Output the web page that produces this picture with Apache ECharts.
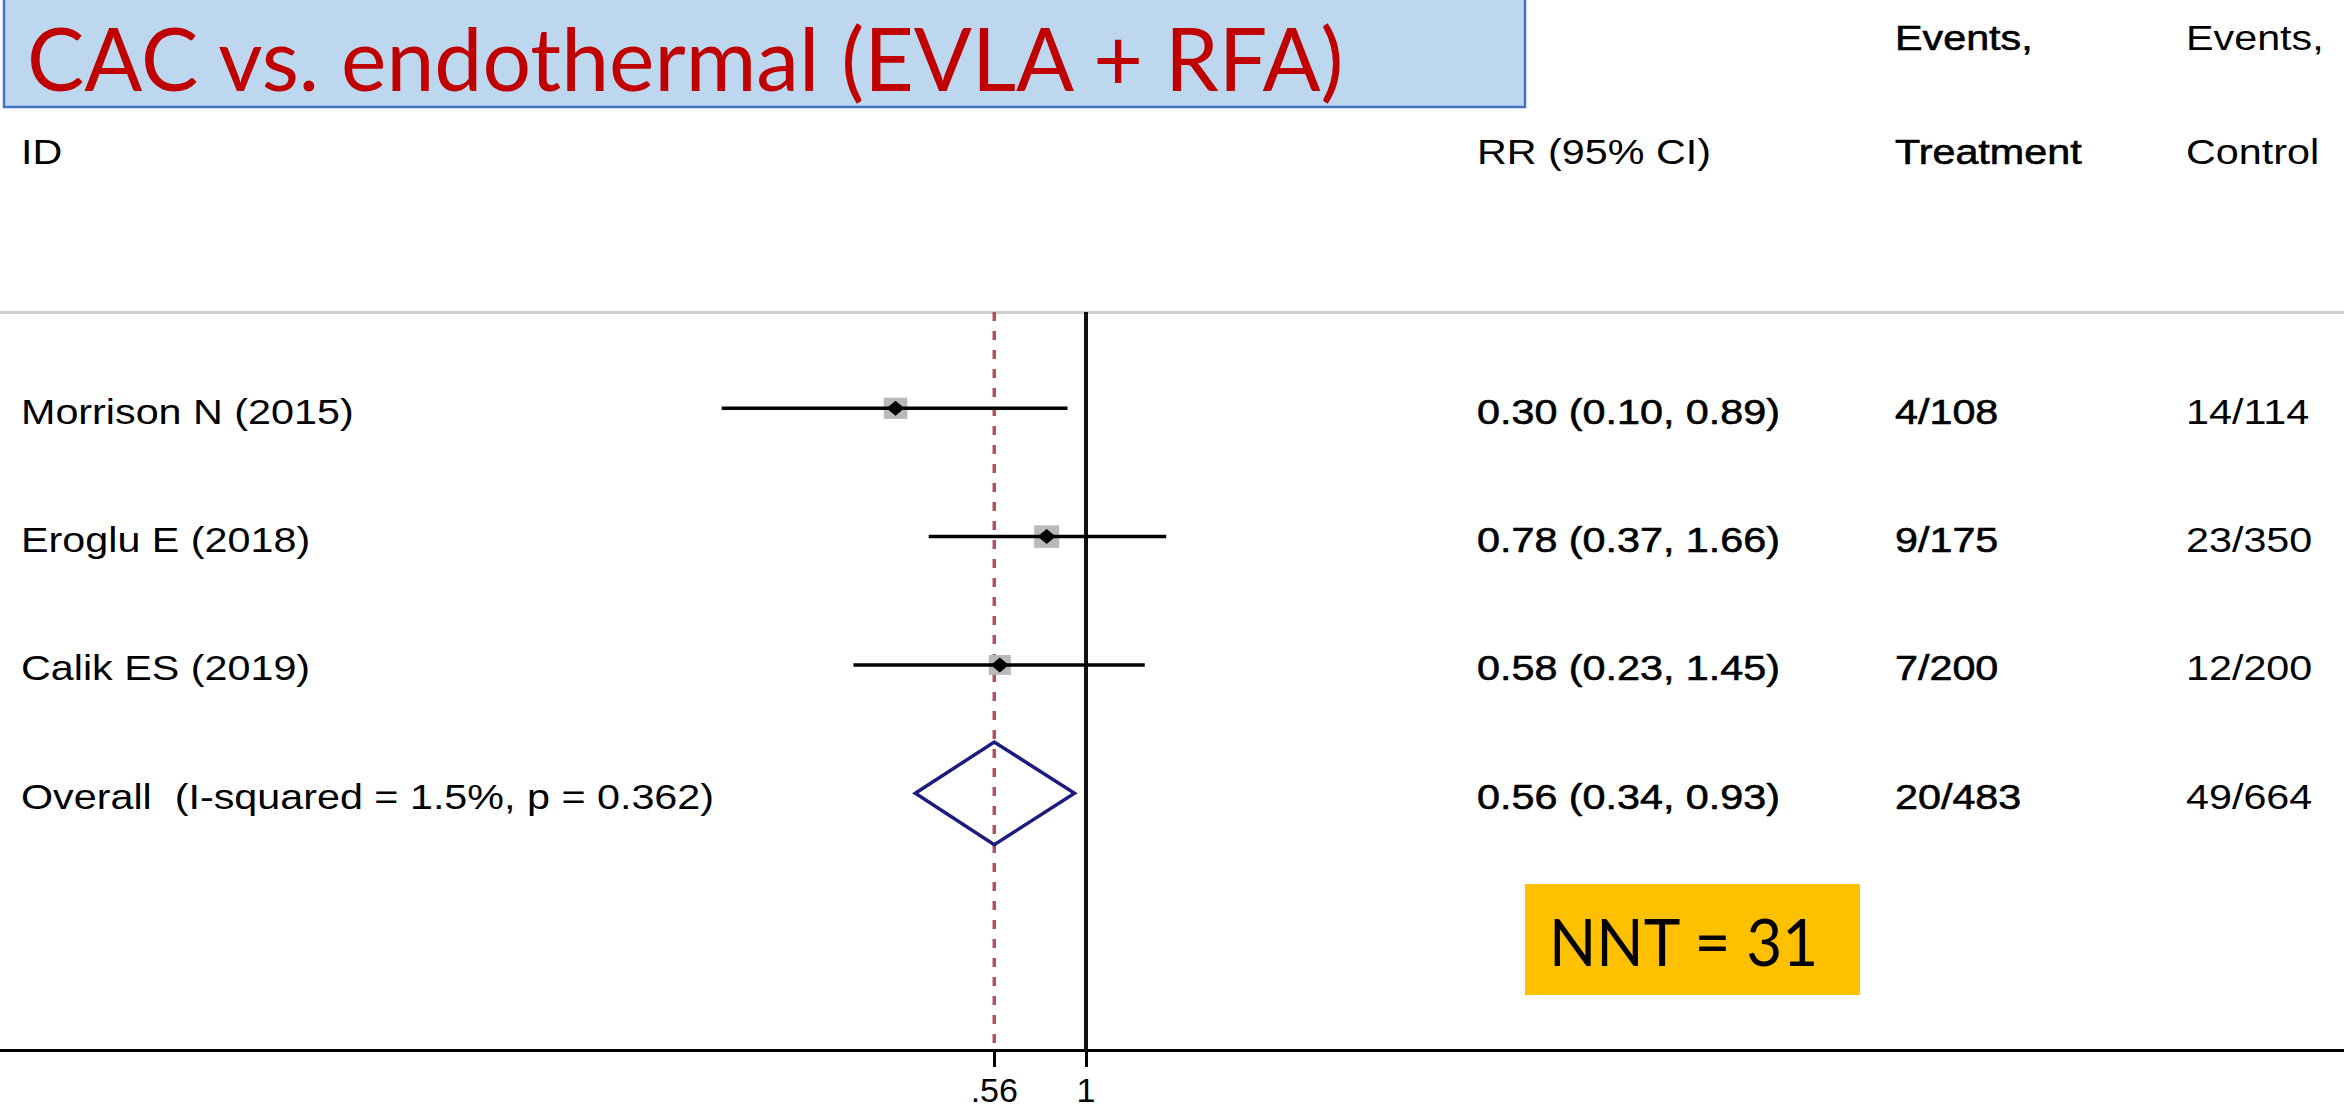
<!DOCTYPE html>
<html><head><meta charset="utf-8">
<script src="https://cdn.jsdelivr.net/npm/echarts@6/dist/echarts.min.js"></script>
<style>html,body{margin:0;padding:0;background:#fff}#c{width:2344px;height:1110px}</style>
</head><body><div id="c"></div>
<script>
// ---------------- data ----------------
const studies = ['Morrison N (2015)', 'Eroglu E (2018)', 'Calik ES (2019)'];
const rr = [0.30, 0.78, 0.58];
const rrLower = [0.10, 0.37, 0.23];
const rrUpper = [0.89, 1.66, 1.45];
const weights = [33.3, 37.4, 29.3];
const treatEvents = [4, 9, 7];
const treatTotal = [108, 175, 200];
const ctrlEvents = [14, 23, 12];
const ctrlTotal = [114, 350, 200];
const overallLabel = 'Overall  (I-squared = 1.5%, p = 0.362)';
const overallRR = 0.56, overallLower = 0.34, overallUpper = 0.93;
const xTicks = [0.56, 1];
const titleText = 'CAC vs. endothermal (EVLA + RFA)';
const nntText = 'NNT = 31';
const headerTop = ['Events,', 'Events,'];
const headerMain = ['ID', 'RR (95% CI)', 'Treatment', 'Control'];

// ---------------- layout ----------------
const W = 2344, H = 1110;
const gridTop = 312, axisY = 1050;
const xAt1 = 1086, pxPerDecade = 364.3;
const xMin = Math.pow(10, -xAt1 / pxPerDecade);
const xMax = Math.pow(10, (W - xAt1) / pxPerDecade);
const yMin = 0.25, yMax = 6;
const colX = [21, 1477, 1895, 2186];
const txtFont = '35px "Liberation Sans", Arial, sans-serif';
const txtScaleX = 1.18;
const textDy = 3;
const boxScale = 25 / Math.sqrt(37.4);
const diamondHalf = 0.4;

function measure(text, font) {
  const ctx = document.createElement('canvas').getContext('2d');
  ctx.font = font; return ctx.measureText(text).width;
}
function f2(v) { return v.toFixed(2); }
function fmtCI(e, l, u) { return f2(e) + ' (' + f2(l) + ', ' + f2(u) + ')'; }
function sum(a) { return a.reduce((s, v) => s + v, 0); }
function fmtTick(v) { return String(Number(Number(v).toPrecision(2))).replace(/^0\./, '.'); }

const tableRows = studies.map((s, i) => ({
  label: s, rr: fmtCI(rr[i], rrLower[i], rrUpper[i]),
  t: treatEvents[i] + '/' + treatTotal[i], c: ctrlEvents[i] + '/' + ctrlTotal[i]
}));
tableRows.push({
  label: overallLabel, rr: fmtCI(overallRR, overallLower, overallUpper),
  t: sum(treatEvents) + '/' + sum(treatTotal), c: sum(ctrlEvents) + '/' + sum(ctrlTotal)
});

function txt(text, x, y, bold) {
  return {
    type: 'text', x: x, y: y, scaleX: txtScaleX,
    style: { text: text, font: txtFont, fill: '#000', align: 'left', verticalAlign: 'middle',
      stroke: bold ? '#000' : null, lineWidth: bold ? 0.6 : 0 }
  };
}

function renderStudy(params, api) {
  const row = api.value(1);
  const c = api.coord([api.value(0), row]);
  const l = api.coord([api.value(2), row]);
  const r = api.coord([api.value(3), row]);
  const s = boxScale * Math.sqrt(api.value(4));
  return { type: 'group', children: [
    { type: 'rect', shape: { x: c[0] - s / 2, y: c[1] - s * 0.45, width: s, height: s * 0.9 }, style: { fill: '#b9b9b9' } },
    { type: 'line', shape: { x1: l[0], y1: l[1], x2: r[0], y2: r[1] }, style: { stroke: '#000', lineWidth: 3.5 } },
    { type: 'polygon', shape: { points: [[c[0] - 9, c[1]], [c[0], c[1] - 7.5], [c[0] + 9, c[1]], [c[0], c[1] + 7.5]] }, style: { fill: '#000' } }
  ]};
}

function renderOverall(params, api) {
  const row = api.value(1);
  const c = api.coord([api.value(0), row]);
  const l = api.coord([api.value(2), row]);
  const r = api.coord([api.value(3), row]);
  const top = api.coord([api.value(0), row - diamondHalf])[1];
  const bot = api.coord([api.value(0), row + diamondHalf])[1];
  return { type: 'polygon',
    shape: { points: [[l[0], c[1]], [c[0], top], [r[0], c[1]], [c[0], bot]] },
    style: { fill: 'none', stroke: '#1b1b80', lineWidth: 3.5 } };
}

function renderTable(params, api) {
  const y = api.coord([1, api.value(1)])[1] + textDy;
  const r = tableRows[params.dataIndex];
  return { type: 'group', children: [
    txt(r.label, colX[0], y, false),
    txt(r.rr, colX[1], y, true),
    txt(r.t, colX[2], y, true),
    txt(r.c, colX[3], y, false)
  ]};
}

const titleFont = '88px Lato, "Open Sans", sans-serif';
const titleScale = 1321 / measure(titleText, titleFont);
const nntFont = '66px Lato, "Open Sans", sans-serif';
const nntScale = 271 / measure(nntText, nntFont);

const chart = echarts.init(document.getElementById('c'), null, { renderer: 'svg', width: W, height: H });
chart.setOption({
  animation: false,
  backgroundColor: '#fff',
  grid: { left: 0, right: 0, top: gridTop, bottom: H - axisY, containLabel: false },
  xAxis: [{
    type: 'log', logBase: 10, min: xMin, max: xMax,
    axisLine: { show: true, onZero: false, lineStyle: { color: '#000', width: 3 } },
    axisTick: { show: true, customValues: xTicks, length: 17, lineStyle: { color: '#000', width: 3 } },
    axisLabel: { show: true, customValues: xTicks, formatter: fmtTick, fontSize: 34,
      fontFamily: '"Liberation Sans", Arial, sans-serif', color: '#000', margin: 23 },
    splitLine: { show: false }, minorTick: { show: false }, minorSplitLine: { show: false }
  }, {
    type: 'log', logBase: 10, min: xMin, max: xMax, position: 'top',
    axisLine: { show: true, onZero: false, lineStyle: { color: '#cdcdcd', width: 3 } },
    axisTick: { show: false }, axisLabel: { show: false }, splitLine: { show: false }
  }],
  yAxis: { type: 'value', inverse: true, min: yMin, max: yMax, show: false },
  series: [
    { type: 'line', name: 'overall effect', data: [[overallRR, yMin], [overallRR, yMax]], symbol: 'none', silent: true,
      lineStyle: { color: '#b2525c', width: 3.5, type: [9, 10] }, z: 1 },
    { type: 'line', name: 'no effect', data: [[1, yMin], [1, yMax]], symbol: 'none', silent: true,
      lineStyle: { color: '#111', width: 4 }, z: 1 },
    { type: 'custom', name: 'studies', clip: false, z: 3,
      data: studies.map((s, i) => [rr[i], i + 1, rrLower[i], rrUpper[i], weights[i]]),
      encode: { x: 0, y: 1 }, renderItem: renderStudy },
    { type: 'custom', name: 'overall', clip: false, z: 3,
      data: [[overallRR, studies.length + 1, overallLower, overallUpper]],
      encode: { x: 0, y: 1 }, renderItem: renderOverall },
    { type: 'custom', name: 'table', clip: false, z: 3,
      data: tableRows.map((r, i) => [1, i + 1]),
      encode: { x: 0, y: 1 }, renderItem: renderTable }
  ],
  graphic: [
    { type: 'rect', shape: { x: 4, y: -4, width: 1521, height: 111 },
      style: { fill: '#BDD7EE', stroke: '#4472C4', lineWidth: 2.5 }, z: 10 },
    { type: 'text', x: 27, y: 57, scaleX: titleScale, z: 11,
      style: { text: titleText, font: titleFont, fill: '#C00000', align: 'left', verticalAlign: 'middle' } },
    { type: 'rect', shape: { x: 1525, y: 884, width: 335, height: 111 }, style: { fill: '#FFC000' }, z: 10 },
    { type: 'text', x: 1549, y: 941, scaleX: nntScale, z: 11,
      style: { text: nntText, font: nntFont, fill: '#000', align: 'left', verticalAlign: 'middle' } },
    Object.assign(txt(headerTop[0], colX[2], 38, true), { z: 11 }),
    Object.assign(txt(headerTop[1], colX[3], 38, false), { z: 11 }),
    Object.assign(txt(headerMain[0], colX[0], 152, false), { z: 11 }),
    Object.assign(txt(headerMain[1], colX[1], 152, false), { z: 11 }),
    Object.assign(txt(headerMain[2], colX[2], 152, true), { z: 11 }),
    Object.assign(txt(headerMain[3], colX[3], 152, false), { z: 11 })
  ]
});
</script></body></html>
